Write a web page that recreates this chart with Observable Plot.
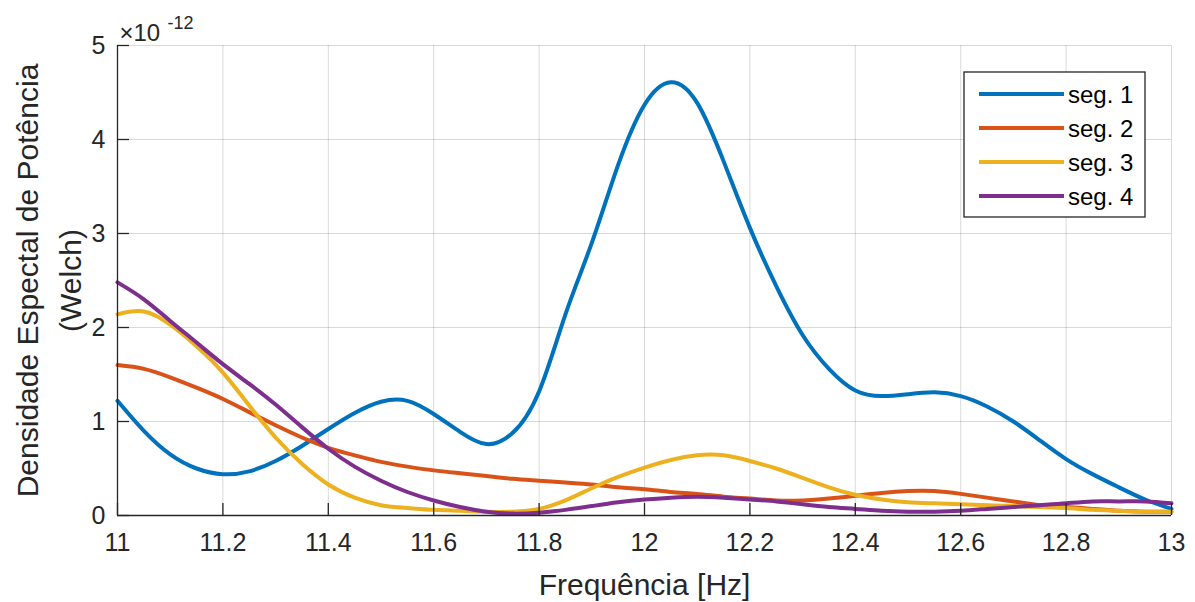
<!DOCTYPE html>
<html>
<head>
<meta charset="utf-8">
<script src="https://cdn.jsdelivr.net/npm/d3@7"></script>
<script src="https://cdn.jsdelivr.net/npm/@observablehq/plot@0.6"></script>
<style>
  html, body { margin: 0; padding: 0; background: #fff; }
  #chart { width: 1195px; height: 602px; }
</style>
</head>
<body>
<div id="chart"></div>
<script>
// ---- Data (PSD values in units of 1e-12) ----
const freq = [11.00,11.05,11.10,11.15,11.20,11.25,11.30,11.35,11.40,11.45,11.50,11.55,11.60,11.65,11.70,11.75,11.80,11.85,11.90,11.95,
              12.00,12.05,12.10,12.15,12.20,12.25,12.30,12.35,12.40,12.45,12.50,12.55,12.60,12.65,12.70,12.75,12.80,12.85,12.90,12.95,13.00];
const seg1 = [1.22,0.90,0.65,0.50,0.44,0.47,0.58,0.74,0.92,1.09,1.21,1.22,1.08,0.89,0.76,0.88,1.32,2.14,2.90,3.73,
              4.37,4.61,4.39,3.77,3.06,2.44,1.92,1.56,1.33,1.27,1.29,1.31,1.27,1.16,1.00,0.80,0.60,0.44,0.30,0.17,0.07];
const seg2 = [1.60,1.56,1.47,1.36,1.24,1.10,0.96,0.83,0.72,0.64,0.57,0.52,0.48,0.45,0.42,0.39,0.37,0.35,0.33,0.30,
              0.28,0.25,0.23,0.20,0.18,0.16,0.16,0.18,0.21,0.24,0.26,0.26,0.23,0.19,0.15,0.11,0.09,0.07,0.05,0.04,0.04];
const seg3 = [2.14,2.17,2.03,1.80,1.52,1.17,0.83,0.55,0.33,0.19,0.11,0.08,0.06,0.05,0.04,0.04,0.07,0.16,0.29,0.41,
              0.51,0.59,0.64,0.64,0.58,0.50,0.40,0.30,0.22,0.17,0.14,0.13,0.12,0.11,0.10,0.09,0.08,0.06,0.05,0.04,0.04];
const seg4 = [2.48,2.30,2.07,1.84,1.61,1.40,1.18,0.94,0.71,0.52,0.37,0.25,0.16,0.09,0.04,0.02,0.03,0.06,0.10,0.14,
              0.17,0.19,0.20,0.19,0.17,0.15,0.12,0.09,0.07,0.05,0.04,0.04,0.05,0.07,0.09,0.11,0.13,0.15,0.15,0.15,0.13];
const seriesNames = ["seg. 1", "seg. 2", "seg. 3", "seg. 4"];
const seriesColors = ["#0072BD", "#D95319", "#EDB120", "#7E2F8E"];
const xTicks = [11, 11.2, 11.4, 11.6, 11.8, 12, 12.2, 12.4, 12.6, 12.8, 13];
const yTicks = [0, 1, 2, 3, 4, 5];
const xDomain = [11, 13];
const yDomain = [0, 5];
const xLabel = "Frequência [Hz]";
const yLabel = "Densidade Espectal de Potência\n(Welch)";
const expBase = "×10";
const expPow = "-12";

// ---- Build table ----
const allSeries = [seg1, seg2, seg3, seg4];
const rows = allSeries.flatMap((vals, i) => vals.map((v, j) => ({freq: freq[j], value: v, series: seriesNames[i]})));

const font = "'Liberation Sans', Arial, Helvetica, sans-serif";
const ink = "#262626";

const svg = Plot.plot({
  width: 1195,
  height: 602,
  marginLeft: 117,
  marginRight: 24,
  marginTop: 45,
  marginBottom: 87,
  style: {fontFamily: font, color: ink, background: "#fff", overflow: "visible"},
  x: {domain: xDomain, label: null},
  y: {domain: yDomain, label: null},
  color: {domain: seriesNames, range: seriesColors},
  marks: [
    Plot.gridX({ticks: xTicks, stroke: "#000", strokeOpacity: 0.15, strokeWidth: 1}),
    Plot.gridY({ticks: yTicks, stroke: "#000", strokeOpacity: 0.15, strokeWidth: 1}),
    Plot.line(rows, {x: "freq", y: "value", z: "series", stroke: "series", strokeWidth: 4, curve: "natural"}),
    Plot.ruleX([xDomain[0]], {stroke: ink, strokeWidth: 1.3}),
    Plot.ruleY([yDomain[0]], {stroke: ink, strokeWidth: 1.3}),
    Plot.tickX(xTicks, {x: d => d, stroke: ink, strokeWidth: 1.3, insetTop: 458}),
    Plot.tickY(yTicks, {y: d => d, stroke: ink, strokeWidth: 1.3, insetRight: 1042}),
    Plot.axisX({ticks: xTicks, tickSize: 0, tickPadding: 18, fontSize: 25, tickFormat: d => String(d), label: null}),
    Plot.axisY({ticks: yTicks, tickSize: 0, tickPadding: 12, fontSize: 25, tickFormat: d => String(d), label: null}),
    Plot.text([xLabel], {text: d => d, frameAnchor: "bottom", lineAnchor: "top", dy: 58, fontSize: 30, fill: ink}),
    Plot.text([yLabel], {text: d => d, frameAnchor: "left", rotate: -90, textAnchor: "middle", lineAnchor: "middle", lineHeight: 1.45, dx: -72, fontSize: 30, fill: ink}),
    Plot.text([expBase], {text: d => d, frameAnchor: "top-left", textAnchor: "start", lineAnchor: "bottom", dx: 2, dy: -5, fontSize: 24, fill: ink}),
    Plot.text([expPow], {text: d => d, frameAnchor: "top-left", textAnchor: "start", lineAnchor: "bottom", dx: 50, dy: -17, fontSize: 18, fill: ink})
  ]
});

// ---- Legend (MATLAB-style box) ----
const s = d3.select(svg);
const lg = s.append("g").attr("font-family", font).attr("text-anchor", "start");
lg.append("rect").attr("x", 964).attr("y", 72).attr("width", 181).attr("height", 145)
  .attr("fill", "#fff").attr("stroke", ink).attr("stroke-width", 1.3);
seriesNames.forEach((name, i) => {
  const y = 94 + i * 34;
  lg.append("line").attr("x1", 979).attr("x2", 1064).attr("y1", y).attr("y2", y)
    .attr("stroke", seriesColors[i]).attr("stroke-width", 4);
  lg.append("text").attr("x", 1068).attr("y", y + 9).attr("font-size", 24).attr("fill", "#000")
    .attr("text-anchor", "start").text(name);
});

document.getElementById("chart").appendChild(svg);
</script>
</body>
</html>
